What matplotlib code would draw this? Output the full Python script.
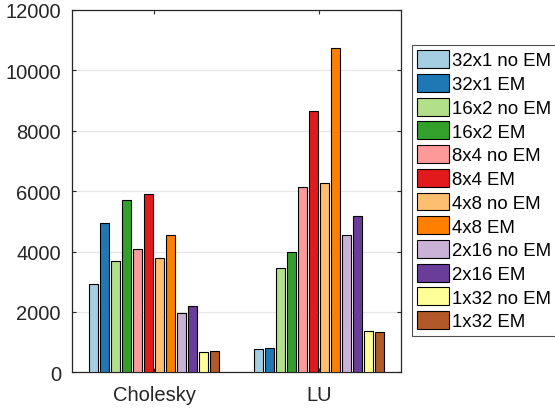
import numpy as np
import matplotlib
matplotlib.use("Agg")
import matplotlib.pyplot as plt

categories = ["Cholesky", "LU"]
series_labels = ["32x1 no EM", "32x1 EM", "16x2 no EM", "16x2 EM", "8x4 no EM", "8x4 EM",
                 "4x8 no EM", "4x8 EM", "2x16 no EM", "2x16 EM", "1x32 no EM", "1x32 EM"]
cholesky_vals = [2940, 4940, 3670, 5710, 4090, 5920, 3780, 4560, 1980, 2190, 685, 718]
lu_vals = [762, 795, 3444, 3996, 6126, 8642, 6258, 10740, 4547, 5166, 1358, 1350]
colors = ["#a6cee3", "#1f78b4", "#b2df8a", "#33a02c", "#fb9a99", "#e31a1c",
          "#fdbf6f", "#ff7f00", "#cab2d6", "#6a3d9a", "#ffff99", "#b15928"]
y_ticks = [0, 2000, 4000, 6000, 8000, 10000, 12000]

plt.rcParams["font.family"] = ["Liberation Sans", "DejaVu Sans"]

fig = plt.figure(figsize=(5.55, 4.10), dpi=100)
W, H = 555, 410
ax = fig.add_axes([72 / W, 1 - 373.3 / H, (401 - 72) / W, (373.3 - 11) / H])

values = np.array([cholesky_vals, lu_vals]).T  # shape (series, category)
n = len(series_labels)
x = np.arange(1, len(categories) + 1)
step = 0.0668
bar_w = step * 0.85
handles = []
for i in range(n):
    offs = (i - (n - 1) / 2) * step
    b = ax.bar(x + offs, values[i], width=bar_w, color=colors[i],
               edgecolor="black", linewidth=0.8, label=series_labels[i], zorder=3)
    handles.append(b)

ax.set_xlim(0.5, 2.5)
ax.set_ylim(0, 12000)
ax.set_xticks(x)
ax.set_xticklabels(categories)
ax.set_yticks(y_ticks)
ax.yaxis.grid(True, color="#e6e6e6", linewidth=0.9, zorder=0)
ax.set_axisbelow(True)
ax.tick_params(direction="in", length=3, width=0.8, top=True, right=True,
               labelsize=14.5, colors="#262626")
ax.tick_params(axis="x", pad=9)
ax.tick_params(axis="y", pad=8)
for s in ax.spines.values():
    s.set_color("#262626")
    s.set_linewidth(0.9)

leg = fig.legend(handles=handles, labels=series_labels, loc="upper left",
                 bbox_to_anchor=(411.7 / W, 1 - 46 / H), borderaxespad=0,
                 fontsize=13.4, frameon=True, fancybox=False, edgecolor="#262626",
                 handlelength=1.7, handleheight=1.1, handletextpad=0.2,
                 labelspacing=0.24, borderpad=0.28)
leg.get_frame().set_linewidth(0.8)
for t in leg.get_texts():
    t.set_color("black")

fig.savefig("out.png", dpi=100)
